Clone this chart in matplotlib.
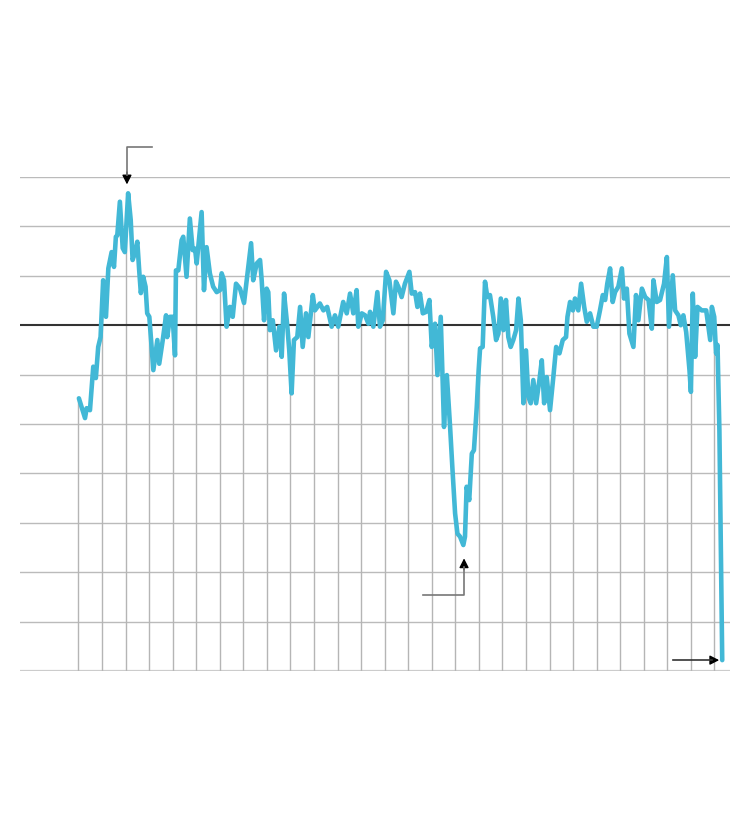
import numpy as np
import matplotlib
matplotlib.use('Agg')
import matplotlib.pyplot as plt

# Series (decimal year, index value)
years = [
    1993.02, 1993.28, 1993.35, 1993.49, 1993.63, 1993.74, 1993.84, 1993.94,
    1994.05, 1994.17, 1994.27, 1994.41, 1994.51, 1994.59, 1994.65, 1994.76,
    1994.88, 1994.97, 1995.11, 1995.22, 1995.30, 1995.40, 1995.50, 1995.58,
    1995.65, 1995.75, 1995.85, 1995.92, 1996.01, 1996.18, 1996.35, 1996.43,
    1996.58, 1996.72, 1996.77, 1996.89, 1997.00, 1997.10, 1997.14, 1997.24,
    1997.38, 1997.45, 1997.59, 1997.73, 1997.85, 1997.95, 1998.02, 1998.23,
    1998.33, 1998.44, 1998.58, 1998.72, 1998.87, 1999.01, 1999.08, 1999.18,
    1999.29, 1999.43, 1999.55, 1999.69, 1999.86, 2000.03, 2000.33, 2000.42,
    2000.57, 2000.71, 2000.78, 2000.88, 2000.99, 2001.06, 2001.13, 2001.25,
    2001.39, 2001.53, 2001.63, 2001.73, 2001.87, 2001.95, 2002.05, 2002.15,
    2002.29, 2002.41, 2002.52, 2002.66, 2002.76, 2002.95, 2003.04, 2003.25,
    2003.40, 2003.56, 2003.75, 2003.89, 2004.03, 2004.24, 2004.39, 2004.53,
    2004.67, 2004.81, 2004.88, 2005.03, 2005.17, 2005.31, 2005.38, 2005.52,
    2005.69, 2005.80, 2005.92, 2006.06, 2006.20, 2006.37, 2006.48, 2006.58,
    2006.72, 2006.86, 2007.05, 2007.15, 2007.29, 2007.39, 2007.50, 2007.62,
    2007.76, 2007.90, 2008.00, 2008.14, 2008.24, 2008.38, 2008.52, 2008.64,
    2008.78, 2008.88, 2008.99, 2009.09, 2009.20, 2009.34, 2009.41, 2009.48,
    2009.59, 2009.70, 2009.79, 2009.91, 2009.99, 2010.05, 2010.16, 2010.26,
    2010.36, 2010.47, 2010.61, 2010.73, 2010.83, 2010.93, 2011.04, 2011.15,
    2011.25, 2011.35, 2011.46, 2011.58, 2011.68, 2011.78, 2011.89, 2012.00,
    2012.10, 2012.20, 2012.31, 2012.43, 2012.57, 2012.67, 2012.77, 2012.88,
    2013.02, 2013.16, 2013.28, 2013.42, 2013.56, 2013.70, 2013.76, 2013.87,
    2013.99, 2014.08, 2014.22, 2014.34, 2014.47, 2014.58, 2014.72, 2014.86,
    2015.00, 2015.14, 2015.26, 2015.36, 2015.45, 2015.57, 2015.68, 2015.78,
    2015.92, 2016.07, 2016.16, 2016.28, 2016.39, 2016.56, 2016.67, 2016.77,
    2016.92, 2017.06, 2017.20, 2017.34, 2017.41, 2017.55, 2017.69, 2017.86,
    2017.98, 2018.07, 2018.23, 2018.33, 2018.47, 2018.57, 2018.68, 2018.80,
    2018.94, 2019.00, 2019.08, 2019.18, 2019.28, 2019.46, 2019.65, 2019.82,
    2019.89, 2019.99, 2020.07, 2020.13, 2020.21, 2020.33,
]
values = [
    -14.8, -18.8, -16.8, -17.2, -8.4, -10.7, -4.4, -2.4,
    9.1, 1.7, 11.5, 14.8, 11.8, 17.9, 18.2, 25.0,
    15.6, 14.8, 26.7, 21.3, 13.2, 14.6, 16.9, 11.1,
    6.5, 9.8, 7.8, 2.4, 1.7, -9.1, -3.0, -7.8,
    -3.0, 2.0, -2.4, 1.7, 1.7, -6.1, 11.1, 11.1,
    17.2, 17.9, 9.8, 21.6, 15.2, 15.5, 12.5, 22.9,
    7.1, 15.8, 10.5, 7.8, 6.7, 7.1, 10.5, 9.1,
    -0.3, 3.7, 1.7, 8.4, 7.4, 4.5, 16.6, 9.1,
    12.5, 13.2, 9.1, 1.0, 7.4, 6.7, -1.0, 1.0,
    -5.1, -0.3, -6.4, 6.4, -0.3, -5.1, -13.8, -3.0,
    -2.4, 3.7, -4.4, 2.4, -2.4, 6.1, 3.0, 4.4,
    3.0, 3.7, -0.3, 2.0, -0.3, 4.7, 2.4, 6.4,
    2.4, 7.1, -0.3, 2.4, 2.0, 0.3, 2.7, -0.3,
    6.7, -0.3, 1.0, 10.8, 9.1, 2.4, 8.8, 7.8,
    5.7, 8.4, 10.8, 6.4, 6.7, 3.7, 6.4, 2.4,
    2.7, 5.1, -4.4, 0.3, -10.1, 1.7, -20.6, -10.1,
    -20.8, -29.3, -38.1, -42.2, -42.8, -44.5, -42.8, -32.7,
    -35.4, -26.0, -25.3, -16.5, -9.1, -4.7, -4.4, 8.8,
    5.7, 6.1, 1.7, -3.0, -1.7, 5.4, -1.0, 5.1,
    -2.4, -4.4, -3.0, -1.0, 5.4, 1.0, -15.8, -5.1,
    -14.5, -15.8, -11.1, -15.8, -11.1, -7.1, -15.8, -10.5,
    -17.2, -10.5, -4.4, -5.7, -3.0, -2.4, 1.7, 4.7,
    3.0, 5.4, 3.0, 8.4, 3.7, 0.7, 2.4, -0.3,
    -0.3, 3.0, 6.1, 5.1, 8.4, 11.5, 4.7, 6.7,
    7.8, 11.5, 5.4, 7.4, -1.7, -4.4, 6.1, 1.0,
    7.4, 5.7, 5.1, -0.7, 9.1, 4.7, 5.1, 8.4,
    13.8, -0.3, 10.1, 3.0, 2.0, 0.0, 2.0, -1.4,
    -9.1, -13.5, 6.4, -6.4, 3.7, 3.0, 3.0, -3.0,
    3.7, 1.7, -5.7, -4.0, -21.3, -67.8,
]
year_lines = list(range(1993, 2021))
y_levels = list(range(-70, 31, 10))

fig = plt.figure(figsize=(7.5, 8.22), dpi=100)
ax = fig.add_axes([20 / 750, 1 - 671 / 822, 710 / 750, 494 / 822])
ax.set_xlim(1990.52, 2020.66)
ax.set_ylim(-70, 30)
ax.axis('off')

# horizontal grid, zero line darker
for lv in y_levels:
    if lv == 0:
        ax.axhline(lv, color='#333333', lw=1.5, zorder=2)
    elif lv == -70:
        ax.axhline(lv, color='#cccccc', lw=1.6, zorder=1)
    else:
        ax.axhline(lv, color='#bbbbbb', lw=1.0, zorder=1)

# vertical year lines running up to the curve
tops = np.interp(year_lines, years, values)
ax.vlines(year_lines, -70, tops, color='#b5b5b5', lw=1.0, zorder=1)

ax.plot(years, values, color='#42b8d6', lw=3.3, solid_joinstyle='round',
        solid_capstyle='round', zorder=3)

# annotation pointers (labels not shown)
grey = '#777777'
head = dict(arrowstyle='-|>,head_length=0.55,head_width=0.28', color='black',
            shrinkA=0, shrinkB=0, lw=1)
ax.plot([1996.12, 1995.06, 1995.06], [36.0, 36.0, 30.5], color=grey, lw=1.2,
        clip_on=False, zorder=4)
ax.annotate('', xy=(1995.06, 28.5), xytext=(1995.06, 31.0), arrowprops=head,
            annotation_clip=False)

ax.plot([2007.63, 2009.37, 2009.37], [-54.7, -54.7, -49.0], color=grey, lw=1.2,
        zorder=4)
ax.annotate('', xy=(2009.37, -47.2), xytext=(2009.37, -49.5), arrowprops=head)

ax.plot([2018.24, 2019.9], [-67.8, -67.8], color='#333333', lw=1.2, zorder=4)
ax.annotate('', xy=(2020.2, -67.8), xytext=(2019.85, -67.8), arrowprops=head)

fig.savefig('out.png', dpi=100)
